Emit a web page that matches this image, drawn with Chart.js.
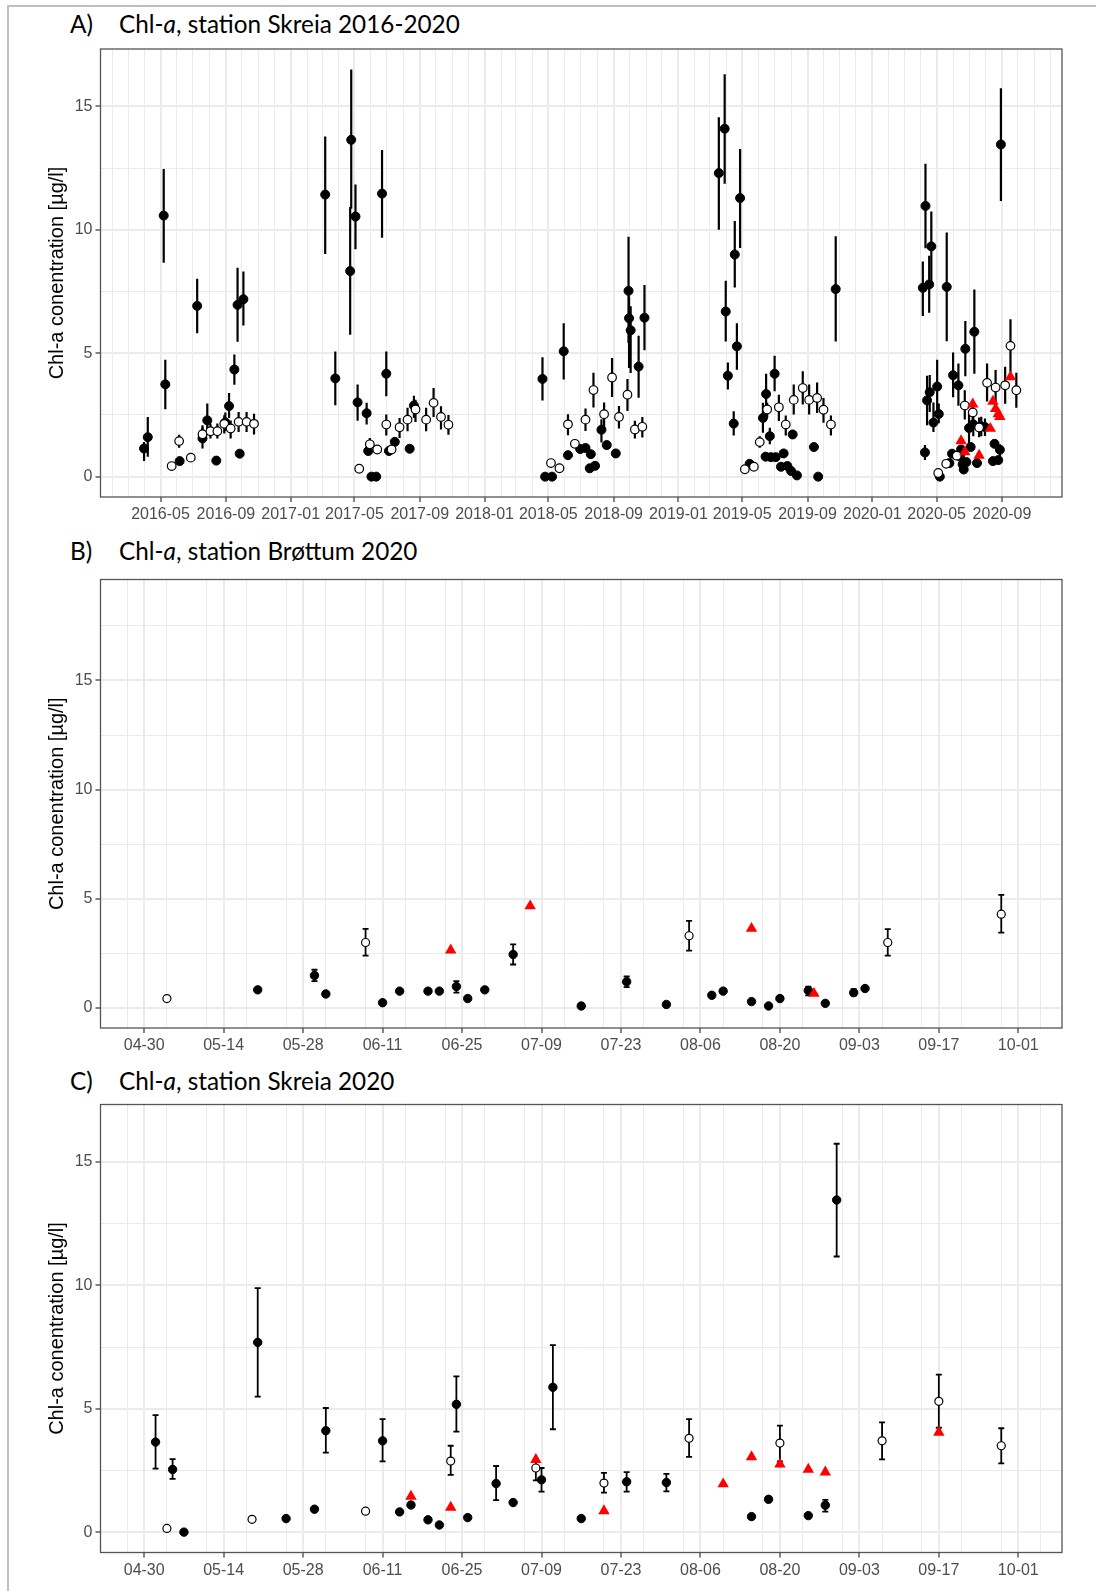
<!DOCTYPE html>
<html>
<head>
<meta charset="utf-8">
<script src="https://cdn.jsdelivr.net/npm/chart.js@4.4.0/dist/chart.umd.min.js"></script>
<style>
  html, body { margin: 0; padding: 0; background: #fff; }
  body { width: 1096px; height: 1591px; position: relative; overflow: hidden; }
  .frame { position: absolute; left: 7px; top: 5px; width: 1200px; height: 1700px;
           border-left: 2px solid #bfbfbf; border-top: 2px solid #bfbfbf; }
  .title { position: absolute; font-family: Lato, "Open Sans", sans-serif; font-size: 24.3px;
           line-height: 24px; color: #000; white-space: nowrap; }
  canvas { position: absolute; left: 0; }
</style>
</head>
<body>
<div class="frame"></div>

<div class="title" style="left:70px;top:12px">A)</div>
<div class="title" style="left:119px;top:12px">Chl-<i>a</i>, station Skreia 2016-2020</div>
<div class="title" style="left:70px;top:539px">B)</div>
<div class="title" style="left:119px;top:539px">Chl-<i>a</i>, station Brøttum 2020</div>
<div class="title" style="left:70px;top:1069px">C)</div>
<div class="title" style="left:119px;top:1069px">Chl-<i>a</i>, station Skreia 2020</div>

<canvas id="chartA" width="1096" height="500" style="top:40px"></canvas>
<canvas id="chartB" width="1096" height="501" style="top:570px"></canvas>
<canvas id="chartC" width="1096" height="496" style="top:1095px"></canvas>

<script>
// ---- Skreia 2016-2019 + early April 2020 (only shown in panel A) ----
const skreiaDarkDates = [
  "2016-03-31","2016-04-07","2016-05-07","2016-05-10","2016-06-06","2016-07-09","2016-07-19","2016-07-28",
  "2016-08-14","2016-08-31","2016-09-07","2016-09-17","2016-09-23","2016-09-27","2016-10-04",
  "2017-03-07","2017-03-26","2017-04-23","2017-04-25","2017-05-03","2017-05-07","2017-05-24","2017-05-27",
  "2017-06-02","2017-06-11","2017-06-22","2017-06-30","2017-07-05","2017-07-16","2017-08-13","2017-08-21",
  "2018-04-20","2018-04-25","2018-05-08","2018-05-30","2018-06-07","2018-06-30","2018-07-10","2018-07-18",
  "2018-07-20","2018-07-28","2018-08-09","2018-08-19","2018-09-05","2018-09-29","2018-09-30","2018-10-03",
  "2018-10-18","2018-10-29",
  "2019-03-18","2019-03-29","2019-03-31","2019-04-04","2019-04-15","2019-04-17","2019-04-21","2019-04-27",
  "2019-05-15","2019-06-09","2019-06-14","2019-06-15","2019-06-22","2019-06-24","2019-07-01","2019-07-03",
  "2019-07-13","2019-07-18","2019-07-25","2019-08-01","2019-08-04","2019-08-12","2019-09-13","2019-09-21",
  "2019-10-24",
  "2020-04-05","2020-04-09","2020-04-10","2020-04-13","2020-04-17","2020-04-18","2020-04-21","2020-04-25"
];
const skreiaDarkVals = [
  1.14, 1.60, 10.58, 3.74, 0.63, 6.92, 1.55, 2.28,
  0.65, 2.20, 2.86, 4.34, 6.96, 0.93, 7.19,
  11.43, 3.98, 8.33, 13.65, 10.54, 3.01, 2.57, 1.04,
  0, 0, 11.47, 4.17, 1.04, 1.41, 1.13, 2.88,
  3.96, 0, 0, 5.08, 0.87, 1.12, 1.16, 0.34,
  0.91, 0.44, 1.90, 1.28, 0.94, 7.53, 6.42, 5.93,
  4.46, 6.44,
  12.30, 14.10, 6.69, 4.09, 2.15, 9.00, 5.28, 11.29,
  0.52, 2.38, 0.81, 3.35, 1.64, 0.79, 4.17, 0.79,
  0.40, 0.94, 0.43, 0.23, 1.71, 0.05, 1.20, 0,
  7.60,
  7.65, 0.98, 10.97, 3.09, 7.79, 3.42, 9.33, 2.19
];
const skreiaDarkLo = [
  0.63, 0.81, 8.67, 2.73, null, 5.81, 1.14, 1.68,
  null, 1.85, 2.38, 3.72, 5.47, null, 6.12,
  9.02, 2.89, 5.75, 10.86, 9.22, 2.27, 2.11, null,
  null, null, 9.68, 3.26, null, null, null, 2.38,
  3.09, null, null, 3.94, null, null, null, null,
  null, null, 1.38, null, null, 5.42, 4.40, 4.20,
  3.20, 5.12,
  10.01, 11.87, 5.48, 3.53, 1.67, 7.66, 4.33, 9.27,
  null, 1.78, null, 2.45, 1.31, null, 3.46, null,
  null, null, null, null, null, null, null, null,
  5.48,
  6.51, 0.67, 9.26, 2.08, 6.64, 2.62, 7.79, 1.81
];
const skreiaDarkHi = [
  1.40, 2.42, 12.47, 4.74, null, 8.02, 2.08, 2.96,
  null, 2.60, 3.39, 4.95, 8.47, null, 8.31,
  13.78, 5.07, 10.93, 16.50, 11.84, 3.73, 2.99, null,
  null, null, 13.24, 5.07, null, null, null, 3.28,
  4.84, null, null, 6.22, null, null, null, null,
  null, null, 2.33, null, null, 9.72, 7.30, 6.90,
  5.71, 7.77,
  14.56, 16.31, 7.94, 4.63, 2.65, 10.36, 6.22, 13.28,
  null, 2.99, null, 4.17, 1.98, null, 4.90, null,
  null, null, null, null, null, null, null, null,
  9.74,
  8.72, 1.28, 12.68, 4.09, 8.95, 4.12, 10.74, 3.00
];

const skreiaOpenDates = [
  "2016-05-22","2016-06-05","2016-06-27","2016-07-19","2016-08-03","2016-08-16","2016-08-29","2016-09-10",
  "2016-09-25","2016-10-10","2016-10-24",
  "2017-05-10","2017-05-30","2017-06-13","2017-06-30","2017-07-10","2017-07-25","2017-08-09","2017-08-24",
  "2017-09-13","2017-09-27","2017-10-11","2017-10-25",
  "2018-05-06","2018-05-22","2018-06-07","2018-06-20","2018-07-10","2018-07-25","2018-08-14","2018-08-29",
  "2018-09-11","2018-09-27","2018-10-11","2018-10-25",
  "2019-05-06","2019-05-23","2019-06-03","2019-06-17","2019-07-09","2019-07-22","2019-08-06","2019-08-23",
  "2019-09-04","2019-09-19","2019-10-01","2019-10-15"
];
const skreiaOpenVals = [
  0.43, 1.44, 0.77, 1.72, 1.84, 1.84, 2.14, 1.95, 2.22, 2.22, 2.14,
  0.32, 1.31, 1.10, 2.11, 1.10, 2.00, 2.31, 2.72, 2.31, 2.99, 2.42, 2.10,
  0.55, 0.34, 2.12, 1.33, 2.31, 3.51, 2.53, 4.02, 2.42, 3.32, 1.91, 2.02,
  0.30, 0.40, 1.40, 2.72, 2.81, 2.11, 3.11, 3.59, 3.11, 3.19, 2.71, 2.11
];
const skreiaOpenLo = [
  null, 1.17, null, 1.45, 1.55, 1.55, 1.75, 1.55, 1.81, 1.81, 1.71,
  null, 0.97, null, 1.67, null, 1.57, 1.84, 2.21, 1.84, 2.42, 1.91, 1.70,
  null, null, 1.68, null, 1.85, 2.80, 1.92, 3.23, 1.95, 2.66, 1.55, 1.59,
  null, null, 1.17, 2.38, 2.25, 1.67, 2.52, 2.92, 2.52, 2.58, 2.18, 1.67
];
const skreiaOpenHi = [
  null, 1.70, null, 2.00, 2.15, 2.15, 2.49, 2.28, 2.62, 2.62, 2.55,
  null, 1.57, null, 2.52, null, 2.38, 2.79, 3.12, 2.79, 3.59, 2.85, 2.50,
  null, null, 2.53, null, 2.76, 4.21, 3.00, 4.81, 2.86, 3.96, 2.26, 2.42,
  null, null, 1.64, 2.99, 3.32, 2.48, 3.73, 4.27, 3.73, 3.82, 3.19, 2.48
];

// ---- Skreia 2020 (panel C, and the 2020 part of panel A) ----
const sk20DarkDates = [
  "2020-05-02","2020-05-05","2020-05-07","2020-05-20","2020-05-25","2020-05-30","2020-06-01","2020-06-11",
  "2020-06-14","2020-06-16","2020-06-19","2020-06-21","2020-06-24","2020-06-26","2020-07-01","2020-07-04",
  "2020-07-09","2020-07-11","2020-07-16","2020-07-24","2020-07-31","2020-08-15","2020-08-18","2020-08-25",
  "2020-08-28","2020-08-30"
];
const sk20DarkVals = [3.65, 2.54, 0, 7.69, 0.55, 0.93, 4.11, 3.70, 0.82, 1.10, 0.50, 0.29, 5.18, 0.59, 1.97, 1.20,
  2.12, 5.87, 0.55, 2.04, 2.01, 0.63, 1.33, 0.67, 1.09, 13.46];
const sk20DarkLo = [2.57, 2.16, null, 5.49, null, null, 3.22, 2.87, null, null, null, null, 4.07, null, 1.30, null,
  1.64, 4.17, null, 1.64, 1.65, null, null, null, 0.83, 11.17];
const sk20DarkHi = [4.74, 2.96, null, 9.89, null, null, 5.03, 4.58, null, null, null, null, 6.31, null, 2.68, null,
  2.60, 7.58, null, 2.43, 2.36, null, null, null, 1.31, 15.74];

const sk20OpenDates = ["2020-05-04","2020-05-19","2020-06-08","2020-06-23","2020-07-08","2020-07-20","2020-08-04",
  "2020-08-20","2020-09-07","2020-09-17","2020-09-28"];
const sk20OpenVals = [0.15, 0.52, 0.85, 2.88, 2.60, 1.99, 3.80, 3.61, 3.70, 5.30, 3.50];
const sk20OpenLo = [null, null, 0.76, 2.32, 2.10, 1.60, 3.05, 2.87, 2.95, 4.23, 2.79];
const sk20OpenHi = [null, null, 0.94, 3.50, 2.90, 2.40, 4.58, 4.32, 4.45, 6.38, 4.21];

const sk20TriDates = ["2020-06-16","2020-06-23","2020-07-08","2020-07-20","2020-08-10","2020-08-15","2020-08-20",
  "2020-08-25","2020-08-28","2020-09-17"];
const sk20TriVals = [1.45, 1.00, 2.94, 0.86, 1.95, 3.05, 2.75, 2.54, 2.43, 4.04];

// ---- Brøttum 2020 (panel B) ----
const br20DarkDates = ["2020-05-20","2020-05-30","2020-06-01","2020-06-11","2020-06-14","2020-06-19","2020-06-21",
  "2020-06-24","2020-06-26","2020-06-29","2020-07-04","2020-07-16","2020-07-24","2020-07-31","2020-08-08",
  "2020-08-10","2020-08-15","2020-08-18","2020-08-20","2020-08-25","2020-08-28","2020-09-02","2020-09-04"];
const br20DarkVals = [0.82, 1.48, 0.63, 0.23, 0.76, 0.76, 0.76, 0.97, 0.42, 0.82, 2.44, 0.08, 1.19, 0.15, 0.57,
  0.76, 0.28, 0.08, 0.42, 0.79, 0.20, 0.69, 0.88];
const br20DarkLo = [null, 1.22, null, null, null, null, null, 0.69, null, null, 1.98, null, 0.94, null, null,
  null, null, null, null, 0.57, null, 0.55, null];
const br20DarkHi = [null, 1.74, null, null, null, null, null, 1.22, null, null, 2.90, null, 1.43, null, null,
  null, null, null, null, 0.97, null, 0.85, null];

const br20OpenDates = ["2020-05-04","2020-06-08","2020-08-04","2020-09-08","2020-09-28"];
const br20OpenVals = [0.42, 2.99, 3.30, 2.99, 4.29];
const br20OpenLo = [null, 2.39, 2.62, 2.39, 3.44];
const br20OpenHi = [null, 3.61, 3.98, 3.60, 5.17];

const br20TriDates = ["2020-06-23","2020-07-07","2020-08-15","2020-08-26"];
const br20TriVals = [2.64, 4.66, 3.63, 0.65];

// ---- axis breaks ----
const yTicksA = [0, 2.5, 5, 7.5, 10, 12.5, 15];
const yTicksB = [0, 2.5, 5, 7.5, 10, 12.5, 15, 17.5];
const labelMonths = [1, 5, 9];          // panel A: labels every 4 months
const fortnightStart = "2020-04-30";    // panels B, C: labels every 14 days
const fortnightEnd = "2020-10-01";
const mondayStart = "2020-04-27";       // minor lines on Mondays

Chart.defaults.font.family = "'Liberation Sans', Arial, sans-serif";

const DAY = 86400000;
function toDay(s) {
  const [y, m, d] = s.split("-").map(Number);
  return Date.UTC(y, m - 1, d) / DAY;
}
function pad2(n) { return String(n).padStart(2, "0"); }
function points(dates, vals) {
  return dates.map((d, i) => ({ x: toDay(d), y: vals[i] }));
}

// vertical error bars, drawn just before each dataset's points
function errorBarPlugin(width, cap) {
  return {
    id: "errorBars",
    beforeDatasetDraw(chart, args) {
      const ds = chart.data.datasets[args.index];
      if (!ds.errLo) return;
      const { ctx } = chart;
      const ys = chart.scales.y;
      const a = chart.chartArea;
      ctx.save();
      ctx.beginPath();
      ctx.rect(a.left, a.top, a.right - a.left, a.bottom - a.top);
      ctx.clip();
      ctx.strokeStyle = "#000";
      ctx.lineWidth = width;
      args.meta.data.forEach((pt, i) => {
        const lo = ds.errLo[i], hi = ds.errHi[i];
        if (lo == null || hi == null) return;
        const y1 = ys.getPixelForValue(lo), y2 = ys.getPixelForValue(hi);
        ctx.beginPath();
        ctx.moveTo(pt.x, y1);
        ctx.lineTo(pt.x, y2);
        if (cap) {
          ctx.moveTo(pt.x - cap, y1); ctx.lineTo(pt.x + cap, y1);
          ctx.moveTo(pt.x - cap, y2); ctx.lineTo(pt.x + cap, y2);
        }
        ctx.stroke();
      });
      ctx.restore();
    }
  };
}

const panelBorder = {
  id: "panelBorder",
  afterDraw(chart) {
    const { ctx, chartArea: a } = chart;
    ctx.save();
    ctx.strokeStyle = "#555555";
    ctx.lineWidth = 1.3;
    ctx.strokeRect(a.left, a.top, a.right - a.left, a.bottom - a.top);
    ctx.restore();
  }
};

function gridFor(isMajor) {
  return {
    color: "#ebebeb",
    lineWidth: (c) => (c.tick && isMajor(c.tick.value) ? 2 : 1),
    drawTicks: true,
    tickLength: 5,
    tickWidth: 1.2,
    tickColor: (c) => (c.tick && isMajor(c.tick.value) ? "#333333" : "rgba(0,0,0,0)")
  };
}

function dsFilled(data, lo, hi, r) {
  return { label: "filled", data, errLo: lo, errHi: hi, order: 2, pointStyle: "circle",
    pointRadius: r, pointHoverRadius: r, backgroundColor: "#000", borderColor: "#000", borderWidth: 1 };
}
function dsOpen(data, lo, hi, r) {
  return { label: "open", data, errLo: lo, errHi: hi, order: 1, pointStyle: "circle",
    pointRadius: r, pointHoverRadius: r, backgroundColor: "#fff", borderColor: "#000", borderWidth: 1.2 };
}
function dsTri(data, r) {
  return { label: "triangle", data, order: 0, pointStyle: "triangle",
    pointRadius: r, pointHoverRadius: r, backgroundColor: "#ff0000", borderColor: "#ff0000", borderWidth: 0 };
}

function makeChart(id, datasets, cfg) {
  const yMajor = (v) => v % 5 === 0;
  return new Chart(document.getElementById(id), {
    type: "scatter",
    data: { datasets },
    options: {
      responsive: false,
      animation: false,
      devicePixelRatio: 1,
      events: [],
      layout: { padding: { top: cfg.padTop, right: 34, left: 0, bottom: 0 } },
      plugins: { legend: { display: false }, tooltip: { enabled: false } },
      scales: {
        x: {
          type: "linear", bounds: "data", min: cfg.xMin, max: cfg.xMax,
          afterBuildTicks: (s) => { s.ticks = cfg.xTicks.map((v) => ({ value: v })); },
          afterFit: (s) => { s.height = cfg.xHeight; s.paddingLeft = 0; s.paddingRight = 0; },
          ticks: { autoSkip: false, maxRotation: 0, minRotation: 0, padding: 3, color: "#4d4d4d",
                   font: { size: 16 }, callback: cfg.xLabel },
          grid: gridFor(cfg.xMajor),
          border: { display: false }
        },
        y: {
          type: "linear", bounds: "data", min: cfg.yMin, max: cfg.yMax,
          afterBuildTicks: (s) => { s.ticks = cfg.yTicks.map((v) => ({ value: v })); },
          afterFit: (s) => { s.width = 100.5; s.paddingTop = 0; s.paddingBottom = 0; },
          title: { display: true, text: "Chl-a conentration [µg/l]", color: "#000",
                   font: { size: 20 }, padding: { top: 45, bottom: 0 } },
          ticks: { autoSkip: false, padding: 3, color: "#4d4d4d", font: { size: 16 },
                   callback: (v) => (yMajor(v) ? String(v) : "") },
          grid: gridFor(yMajor),
          border: { display: false }
        }
      }
    },
    plugins: [errorBarPlugin(cfg.barWidth, cfg.cap), panelBorder]
  });
}

// ---- panel A: monthly breaks, labelled every 4 months ----
const aMin = toDay("2016-05-01") - 113;
const aMax = toDay("2020-09-01") + 113;
const aTicks = [];
for (let y = 2016; y <= 2020; y++) {
  for (let m = 1; m <= 12; m++) {
    const d = toDay(`${y}-${pad2(m)}-01`);
    if (d >= aMin && d <= aMax) aTicks.push(d);
  }
}
function monthOf(v) { return new Date(v * DAY).getUTCMonth() + 1; }

makeChart("chartA", [
  dsTri(points(sk20TriDates, sk20TriVals), 6.6),
  dsOpen(points([...skreiaOpenDates, ...sk20OpenDates], [...skreiaOpenVals, ...sk20OpenVals]),
         [...skreiaOpenLo, ...sk20OpenLo], [...skreiaOpenHi, ...sk20OpenHi], 4.3),
  dsFilled(points([...skreiaDarkDates, ...sk20DarkDates], [...skreiaDarkVals, ...sk20DarkVals]),
           [...skreiaDarkLo, ...sk20DarkLo], [...skreiaDarkHi, ...sk20DarkHi], 4.5)
], {
  padTop: 9, xHeight: 43, xMin: aMin, xMax: aMax, xTicks: aTicks,
  xMajor: (v) => labelMonths.includes(monthOf(v)),
  xLabel: (v) => {
    const dt = new Date(v * DAY);
    return labelMonths.includes(dt.getUTCMonth() + 1) ? `${dt.getUTCFullYear()}-${pad2(dt.getUTCMonth() + 1)}` : "";
  },
  yMin: -0.825, yMax: 17.33, yTicks: yTicksA, barWidth: 2.2, cap: 0
});

// ---- panels B and C: 14-day labels, weekly minor lines ----
const fMin = toDay(fortnightStart) - 7.7;
const fMax = toDay(fortnightEnd) + 7.7;
const fMajors = [];
for (let d = toDay(fortnightStart); d <= toDay(fortnightEnd); d += 14) fMajors.push(d);
const fTicks = [...fMajors];
for (let d = toDay(mondayStart); d <= fMax; d += 7) fTicks.push(d);
fTicks.sort((a, b) => a - b);
const fMajor = (v) => fMajors.includes(v);
const fLabel = (v) => {
  if (!fMajor(v)) return "";
  const dt = new Date(v * DAY);
  return `${pad2(dt.getUTCMonth() + 1)}-${pad2(dt.getUTCDate())}`;
};

makeChart("chartB", [
  dsTri(points(br20TriDates, br20TriVals), 6.6),
  dsOpen(points(br20OpenDates, br20OpenVals), br20OpenLo, br20OpenHi, 4),
  dsFilled(points(br20DarkDates, br20DarkVals), br20DarkLo, br20DarkHi, 4.2)
], {
  padTop: 9.5, xHeight: 43, xMin: fMin, xMax: fMax, xTicks: fTicks, xMajor: fMajor, xLabel: fLabel,
  yMin: -0.93, yMax: 19.63, yTicks: yTicksB, barWidth: 1.8, cap: 3
});

makeChart("chartC", [
  dsTri(points(sk20TriDates, sk20TriVals), 6.6),
  dsOpen(points(sk20OpenDates, sk20OpenVals), sk20OpenLo, sk20OpenHi, 4),
  dsFilled(points(sk20DarkDates, sk20DarkVals), sk20DarkLo, sk20DarkHi, 4.2)
], {
  padTop: 9.5, xHeight: 38.5, xMin: fMin, xMax: fMax, xTicks: fTicks, xMajor: fMajor, xLabel: fLabel,
  yMin: -0.825, yMax: 17.33, yTicks: yTicksA, barWidth: 1.8, cap: 3
});
</script>
</body>
</html>
